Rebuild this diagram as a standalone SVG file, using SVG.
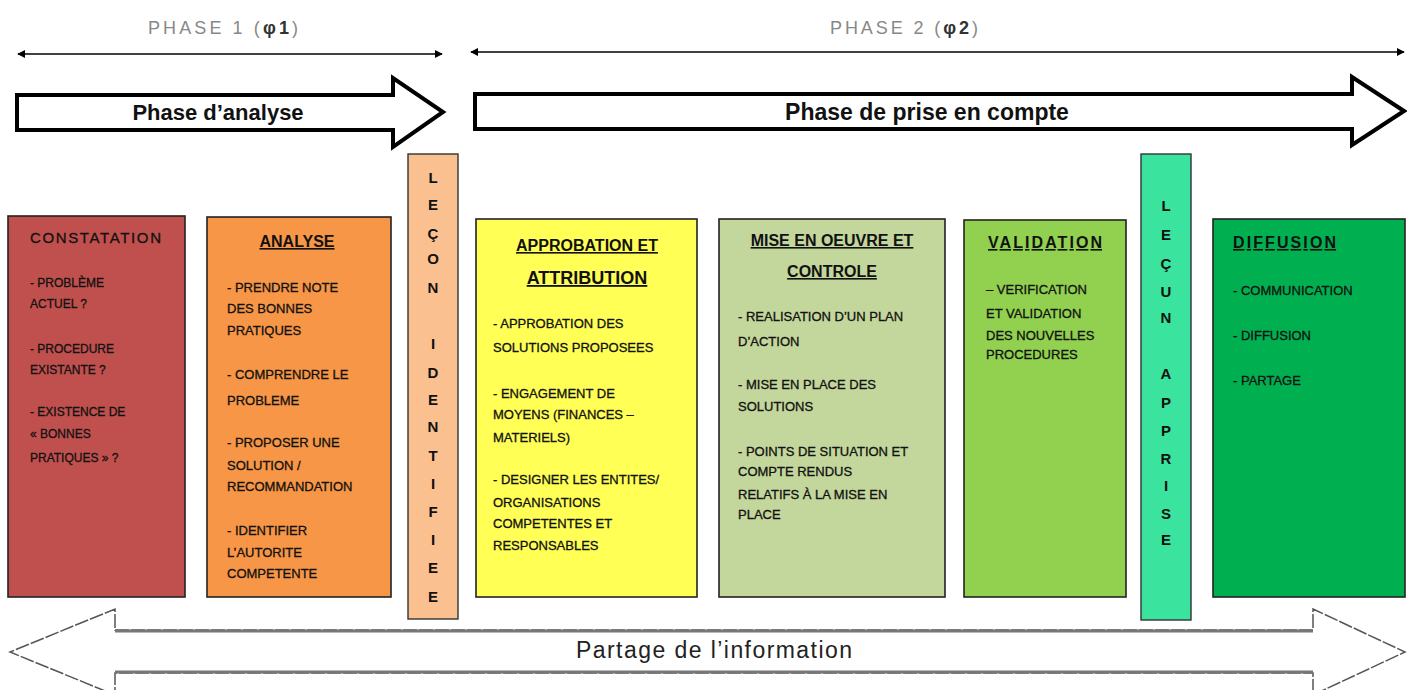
<svg xmlns="http://www.w3.org/2000/svg" width="1407" height="690" viewBox="0 0 1407 690">
<style>
  .bg{fill:#ffffff}
  .box{stroke:#222;stroke-width:1.6}
  .col{stroke:#333;stroke-width:1.4}
  .t{font-family:"Liberation Sans",Arial,sans-serif;font-size:13px;fill:#111;stroke:#111;stroke-width:0.3}
  .t12{font-family:"Liberation Sans",Arial,sans-serif;font-size:12px;fill:#111;stroke:#111;stroke-width:0.3}
  .h{font-family:"Liberation Sans",Arial,sans-serif;font-size:16px;font-weight:bold;fill:#111;text-decoration:underline}
  .h2{font-family:"Liberation Sans",Arial,sans-serif;font-size:18px;font-weight:bold;fill:#111;text-decoration:underline}
  .v{font-family:"Liberation Sans",Arial,sans-serif;font-size:15px;font-weight:bold;fill:#111;text-anchor:middle}
  .phase{font-family:"Liberation Sans",Arial,sans-serif;font-size:18px;fill:#888;text-anchor:middle}
  .big{font-family:"Liberation Sans",Arial,sans-serif;font-weight:bold;fill:#111;text-anchor:middle}
  .bigarrow{fill:#fff;stroke:#000;stroke-width:4;stroke-linejoin:miter}
  .dim{stroke:#000;stroke-width:1.5;fill:none}
</style>
<defs>
  <marker id="ah" viewBox="0 0 10 10" refX="9" refY="5" markerWidth="8" markerHeight="8" orient="auto-start-reverse" markerUnits="userSpaceOnUse">
    <path d="M0,0 L10,5 L0,10 Z" fill="#000"/>
  </marker>
</defs>
<rect class="bg" x="0" y="0" width="1407" height="690"/>

<g id="connectors">
  <line class="dim" x1="18" y1="54" x2="442" y2="54" marker-start="url(#ah)" marker-end="url(#ah)"/>
  <line class="dim" x1="471" y1="52" x2="1404" y2="52" marker-start="url(#ah)" marker-end="url(#ah)"/>
</g>

<g id="phase1-label"><text class="phase" x="223" y="34" textLength="150">PHASE 1 (<tspan font-weight="bold" fill="#333">φ1</tspan>)</text></g>
<g id="phase2-label"><text class="phase" x="904" y="34" textLength="148">PHASE 2 (<tspan font-weight="bold" fill="#333">φ2</tspan>)</text></g>

<g id="arrow-analyse">
  <path class="bigarrow" d="M17,95 H393 V78 L443,112 L393,147 V130 H17 Z"/>
  <text class="big" x="218" y="120" font-size="22">Phase d’analyse</text>
</g>
<g id="arrow-prise">
  <path class="bigarrow" d="M475,94 H1352 V77 L1404,111 L1352,145 V129 H475 Z"/>
  <text class="big" x="927" y="120" font-size="23">Phase de prise en compte</text>
</g>

<g id="constatation">
  <rect class="box" x="8" y="216" width="177" height="381" fill="#C0504D"/>
  <text x="30" y="243" font-family="Liberation Sans, Arial, sans-serif" font-size="15" fill="#111" stroke="#111" stroke-width="0.3" textLength="131">CONSTATATION</text>
  <text class="t12" x="30" y="287">- PROBLÈME</text>
  <text class="t12" x="30" y="308">ACTUEL ?</text>
  <text class="t12" x="30" y="353">- PROCEDURE</text>
  <text class="t12" x="30" y="374">EXISTANTE  ?</text>
  <text class="t12" x="30" y="416">- EXISTENCE DE</text>
  <text class="t12" x="30" y="438">« BONNES</text>
  <text class="t12" x="30" y="462">PRATIQUES » ?</text>
</g>

<g id="analyse">
  <rect class="box" x="207" y="217" width="184" height="380" fill="#F79646"/>
  <text class="h" x="297" y="247" text-anchor="middle">ANALYSE</text>
  <text class="t" x="227" y="292">- PRENDRE NOTE</text>
  <text class="t" x="227" y="313">DES BONNES</text>
  <text class="t" x="227" y="335">PRATIQUES</text>
  <text class="t" x="227" y="379">- COMPRENDRE LE</text>
  <text class="t" x="227" y="405">PROBLEME</text>
  <text class="t" x="227" y="447">- PROPOSER UNE</text>
  <text class="t" x="227" y="470">SOLUTION /</text>
  <text class="t" x="227" y="491">RECOMMANDATION</text>
  <text class="t" x="227" y="535">- IDENTIFIER</text>
  <text class="t" x="227" y="557">L’AUTORITE</text>
  <text class="t" x="227" y="578">COMPETENTE</text>
</g>

<g id="lecon-identifiee">
  <rect class="col" x="408" y="154" width="50" height="465" fill="#FAC08F"/>
  <text class="v" x="433" y="183">L</text>
  <text class="v" x="433" y="210">E</text>
  <text class="v" x="433" y="239">Ç</text>
  <text class="v" x="433" y="264">O</text>
  <text class="v" x="433" y="293">N</text>
  <text class="v" x="433" y="349">I</text>
  <text class="v" x="433" y="378">D</text>
  <text class="v" x="433" y="405">E</text>
  <text class="v" x="433" y="432">N</text>
  <text class="v" x="433" y="461">T</text>
  <text class="v" x="433" y="489">I</text>
  <text class="v" x="433" y="517">F</text>
  <text class="v" x="433" y="545">I</text>
  <text class="v" x="433" y="573">E</text>
  <text class="v" x="433" y="602">E</text>
</g>

<g id="approbation">
  <rect class="box" x="476" y="219" width="221" height="378" fill="#FFFF55"/>
  <text class="h" x="587" y="251" text-anchor="middle">APPROBATION ET</text>
  <text class="h2" x="587" y="284" text-anchor="middle">ATTRIBUTION</text>
  <text class="t" x="493" y="328">- APPROBATION  DES</text>
  <text class="t" x="493" y="352">SOLUTIONS PROPOSEES</text>
  <text class="t" x="493" y="398">- ENGAGEMENT  DE</text>
  <text class="t" x="493" y="419">MOYENS  (FINANCES –</text>
  <text class="t" x="493" y="442">MATERIELS)</text>
  <text class="t" x="493" y="484">- DESIGNER  LES ENTITES/</text>
  <text class="t" x="493" y="507">ORGANISATIONS</text>
  <text class="t" x="493" y="528">COMPETENTES  ET</text>
  <text class="t" x="493" y="550">RESPONSABLES</text>
</g>

<g id="mise-en-oeuvre">
  <rect class="box" x="719" y="219" width="226" height="378" fill="#C3D69B"/>
  <text class="h" x="832" y="246" text-anchor="middle" font-size="17">MISE EN OEUVRE ET</text>
  <text class="h" x="832" y="277" text-anchor="middle" font-size="17">CONTROLE</text>
  <text class="t" x="738" y="321">-  REALISATION  D’UN PLAN</text>
  <text class="t" x="738" y="346">D’ACTION</text>
  <text class="t" x="738" y="389">-  MISE EN PLACE DES</text>
  <text class="t" x="738" y="411">SOLUTIONS</text>
  <text class="t" x="738" y="456">- POINTS DE SITUATION  ET</text>
  <text class="t" x="738" y="476">COMPTE RENDUS</text>
  <text class="t" x="738" y="499">RELATIFS  À LA MISE EN</text>
  <text class="t" x="738" y="519">PLACE</text>
</g>

<g id="validation">
  <rect class="box" x="964" y="220" width="162" height="377" fill="#92D050"/>
  <text class="h" x="1045" y="248" text-anchor="middle" font-size="17" textLength="114">VALIDATION</text>
  <text class="t" x="986" y="294">– VERIFICATION</text>
  <text class="t" x="986" y="318">ET VALIDATION</text>
  <text class="t" x="986" y="340">DES  NOUVELLES</text>
  <text class="t" x="986" y="359" font-size="12">PROCEDURES</text>
</g>

<g id="lecon-apprise">
  <rect class="col" x="1141" y="154" width="50" height="466" fill="#3AE39E"/>
  <text class="v" x="1166" y="211">L</text>
  <text class="v" x="1166" y="240">E</text>
  <text class="v" x="1166" y="269">Ç</text>
  <text class="v" x="1166" y="297">U</text>
  <text class="v" x="1166" y="323">N</text>
  <text class="v" x="1166" y="379">A</text>
  <text class="v" x="1166" y="408">P</text>
  <text class="v" x="1166" y="436">P</text>
  <text class="v" x="1166" y="464">R</text>
  <text class="v" x="1166" y="491">I</text>
  <text class="v" x="1166" y="519">S</text>
  <text class="v" x="1166" y="545">E</text>
</g>

<g id="diffusion">
  <rect class="box" x="1213" y="219" width="192" height="378" fill="#00B050"/>
  <text class="h" x="1233" y="248" font-size="17" textLength="103">DIFFUSION</text>
  <text class="t" x="1233" y="295">- COMMUNICATION</text>
  <text class="t" x="1233" y="340">- DIFFUSION</text>
  <text class="t" x="1233" y="385">- PARTAGE</text>
</g>

<g id="partage">
  <path d="M115,630 H1313 V609 L1405,652 L1313,695 V673 H115 V695 L10,652 L115,609 Z" fill="#fff" stroke="#555" stroke-width="1.5" stroke-dasharray="14 2"/>
  <line x1="115" y1="631" x2="1313" y2="631" stroke="#777" stroke-width="3"/>
  <line x1="115" y1="672" x2="1313" y2="672" stroke="#777" stroke-width="3"/>
  <text x="714" y="658" font-family="Liberation Sans, Arial, sans-serif" font-size="23" fill="#222" text-anchor="middle" textLength="276">Partage de l’information</text>
</g>
</svg>
